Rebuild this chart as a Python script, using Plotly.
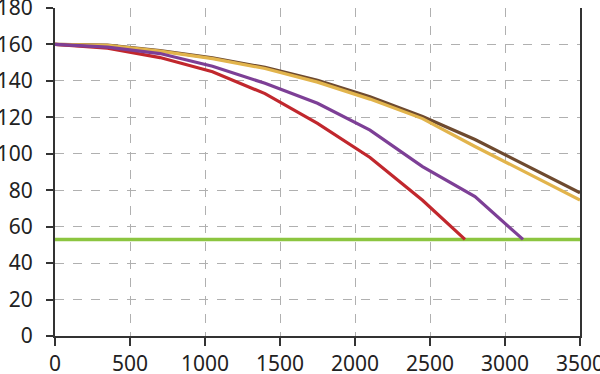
import plotly.graph_objects as go

x_red = [0, 350, 700, 1050, 1400, 1750, 2100, 2450, 2733]
y_red = [160, 158, 152.8, 145, 133, 116.7, 98, 74.5, 53]

x_purple = [0, 350, 700, 1050, 1400, 1750, 2100, 2450, 2800, 3120]
y_purple = [160, 158.5, 155, 148, 138.7, 127.7, 113, 93, 76.5, 53]

x_gold = [0, 350, 700, 1050, 1400, 1750, 2100, 2450, 2800, 3150, 3500]
y_gold = [160, 159.5, 156.3, 152.2, 146.8, 139.3, 130, 119.3, 104, 89.5, 74.6]

x_brown = [0, 350, 700, 1050, 1400, 1750, 2100, 2450, 2800, 3150, 3500]
y_brown = [160, 159.6, 156.6, 152.6, 147.4, 140.3, 131.3, 120.5, 107.8, 93.2, 78.6]

x_limit = [0, 3500]
y_limit = [53, 53]

x_ticks = [0, 500, 1000, 1500, 2000, 2500, 3000, 3500]
y_ticks = [0, 20, 40, 60, 80, 100, 120, 140, 160, 180]

fig = go.Figure()
fig.add_trace(go.Scatter(x=x_limit, y=y_limit, mode="lines",
                         line=dict(color="#8cc540", width=3.5)))
fig.add_trace(go.Scatter(x=x_brown, y=y_brown, mode="lines",
                         line=dict(color="#6e4a2f", width=3.2)))
fig.add_trace(go.Scatter(x=x_gold, y=y_gold, mode="lines",
                         line=dict(color="#e2b44c", width=3.2)))
fig.add_trace(go.Scatter(x=x_red, y=y_red, mode="lines",
                         line=dict(color="#c1272d", width=3.2)))
fig.add_trace(go.Scatter(x=x_purple, y=y_purple, mode="lines",
                         line=dict(color="#7d3f96", width=3.2)))

font = dict(family="Noto Sans", size=21, color="#222222")

fig.update_layout(
    width=600, height=374,
    margin=dict(l=55, r=20, t=8, b=38, autoexpand=False),
    paper_bgcolor="white", plot_bgcolor="white",
    showlegend=False,
    font=font,
    xaxis=dict(range=[0, 3500], tickvals=x_ticks, ticks="outside", ticklen=8,
               tickwidth=1.5, tickcolor="#333333", automargin=False,
               ticklabeloverflow="allow",
               showline=True, linecolor="#333333", linewidth=2,
               showgrid=True, gridcolor="#b0b0b0", griddash="dash", gridwidth=1,
               zeroline=False, tickfont=font),
    yaxis=dict(range=[0, 180], tickvals=y_ticks, ticks="outside", ticklen=7,
               tickwidth=1.5, tickcolor="#333333", automargin=False,
               ticklabeloverflow="allow",
               showline=True, linecolor="#333333", linewidth=2, mirror=True,
               showgrid=True, gridcolor="#b0b0b0", griddash="dash", gridwidth=1,
               zeroline=False, tickfont=font, ticklabelstandoff=9),
)

fig.write_html("out.html", config={"displayModeBar": False},
               post_script="document.body.style.margin='0';document.body.style.overflow='hidden';")
